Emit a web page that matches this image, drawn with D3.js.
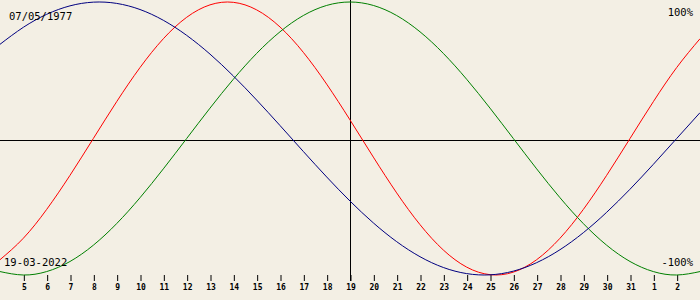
<!DOCTYPE html>
<html>
<head>
<meta charset="utf-8">
<script src="https://cdn.jsdelivr.net/npm/d3@7"></script>
<style>
  html, body { margin: 0; padding: 0; background: #f3efe4; }
  svg { display: block; }
  .lbl { font-family: "DejaVu Sans Mono", monospace; font-size: 10.5px; fill: #000; }
  .tick text { font-family: "DejaVu Sans Mono", monospace; font-size: 8px; font-weight: bold; fill: #000; }
</style>
</head>
<body>
<script>
// Day index (March 2022; 32 = April 1)
const days = [4,5,6,7,8,9,10,11,12,13,14,15,16,17,18,19,20,21,22,23,24,25,26,27,28,29,30,31,32,33,34];
// Physical (red)
const physical = [-0.8879,-0.7308,-0.5196,-0.2698,0,0.2698,0.5196,0.7308,0.8879,0.9791,0.9977,0.9423,0.8170,0.6310,0.3984,0.1362,-0.1362,-0.3984,-0.6310,-0.8170,-0.9423,-0.9977,-0.9791,-0.8879,-0.7308,-0.5196,-0.2698,0,0.2698,0.5196,0.7308];
// Emotional (green)
const emotional = [-0.9749,-1,-0.9749,-0.9010,-0.7818,-0.6235,-0.4339,-0.2225,0,0.2225,0.4339,0.6235,0.7818,0.9010,0.9749,1,0.9749,0.9010,0.7818,0.6235,0.4339,0.2225,0,-0.2225,-0.4339,-0.6235,-0.7818,-0.9010,-0.9749,-1,-0.9749];
// Intellectual (blue)
const intellectual = [0.6901,0.8146,0.9096,0.9718,0.9989,0.9898,0.9450,0.8660,0.7557,0.6182,0.4582,0.2817,0.0951,-0.0951,-0.2817,-0.4582,-0.6182,-0.7557,-0.8660,-0.9450,-0.9898,-0.9989,-0.9718,-0.9096,-0.8146,-0.6901,-0.5406,-0.3717,-0.1893,0,0.1893];

const tickDays = [5,6,7,8,9,10,11,12,13,14,15,16,17,18,19,20,21,22,23,24,25,26,27,28,29,30,31,32,33];
const tickLabels = ["5","6","7","8","9","10","11","12","13","14","15","16","17","18","19","20","21","22","23","24","25","26","27","28","29","30","31","1","2"];
const today = 19;
const birthLabel = "07/05/1977";
const dateLabel = "19-03-2022";
const topLabel = "100%";
const bottomLabel = "-100%";

const series = [
  { values: physical, color: "#ff0000" },
  { values: emotional, color: "#008000" },
  { values: intellectual, color: "#000080" }
];

const W = 700, H = 300;
const svg = d3.select("body").append("svg").attr("width", W).attr("height", H);

const x = d3.scaleLinear().domain([4, 34]).range([0, 700]);
const y = d3.scaleLinear().domain([-1, 1]).range([275, 2]);

// zero line
svg.append("line")
  .attr("x1", 0).attr("x2", W)
  .attr("y1", Math.round(y(0)) + 1.5).attr("y2", Math.round(y(0)) + 1.5)
  .attr("stroke", "#000").attr("stroke-width", 1);

// today line
svg.append("line")
  .attr("x1", x(today) + 0.5).attr("x2", x(today) + 0.5)
  .attr("y1", 0).attr("y2", 281)
  .attr("stroke", "#000").attr("stroke-width", 1);

// axis
const axis = d3.axisBottom(x)
  .tickValues(tickDays)
  .tickFormat((d, i) => tickLabels[i])
  .tickSize(6)
  .tickPadding(3);
const gAxis = svg.append("g").attr("transform", "translate(0.5,275)").call(axis);
gAxis.select(".domain").remove();
gAxis.selectAll(".tick line").attr("stroke", "#000");

// curves
const line = d3.line()
  .x((d, i) => x(days[i]))
  .y(d => y(d))
  .curve(d3.curveNatural);

series.forEach(s => {
  svg.append("path")
    .datum(s.values)
    .attr("d", line)
    .attr("fill", "none")
    .attr("stroke", s.color)
    .attr("stroke-width", 1);
});

// labels
svg.append("text").attr("class", "lbl").attr("x", 9).attr("y", 20).text(birthLabel);
svg.append("text").attr("class", "lbl").attr("x", 693).attr("y", 16).attr("text-anchor", "end").text(topLabel);
svg.append("text").attr("class", "lbl").attr("x", 4).attr("y", 266).text(dateLabel);
svg.append("text").attr("class", "lbl").attr("x", 693).attr("y", 266).attr("text-anchor", "end").text(bottomLabel);
</script>
</body>
</html>
